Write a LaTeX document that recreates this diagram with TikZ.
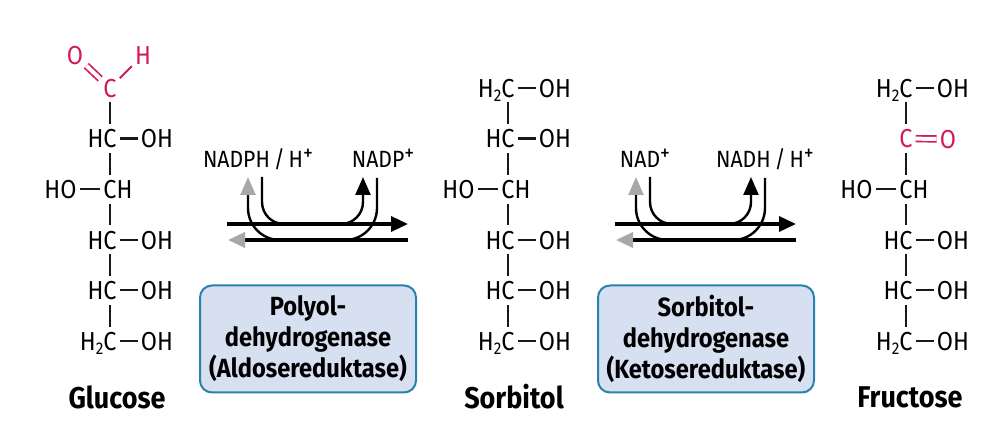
\documentclass[tikz,border=0pt]{standalone}
\usepackage{fontspec}
\setmainfont[FakeStretch=0.9]{Fira Sans}
\usetikzlibrary{arrows.meta}
\definecolor{carbred}{HTML}{D2195A}
\definecolor{boxfill}{HTML}{D6E0F1}
\definecolor{boxdraw}{HTML}{2A80B0}
\definecolor{tipgray}{HTML}{A8A8A8}
\newcommand{\hsub}{H\raisebox{-4pt}{\fontsize{17}{18}\selectfont 2}}
\newcommand{\splus}{\raisebox{7pt}{\fontsize{22}{22}\selectfont +}}

\begin{document}
\begin{tikzpicture} [
    x=1pt,
    y=-1pt,
    node distance=50.6pt,
  ]

  \tikzstyle{atom} = [
    font=\fontsize{26}{30}\selectfont,
    text height=18.5pt,
    text depth=0pt,
    inner xsep=3pt,
    inner ysep=5pt,
  ]
  \tikzstyle{ohgroup} = [
    atom,
    node distance=47pt,
  ]
  \tikzstyle{hogroup} = [
    atom,
    node distance=49.5pt,
  ]
  \tikzstyle{redatom} = [
    atom,
    text=carbred,
  ]
  \tikzstyle{bond} = [
    line width=2.2pt,
    black!90,
  ]
  \tikzstyle{redbond} = [
    line width=2pt,
    carbred,
  ]
  \tikzstyle{redbond2} = [
    carbred,
    line width=1.7pt,
    double=white,
    double distance=4pt,
  ]
  \tikzstyle{cofactor} = [
    font=\fontsize{23.5}{26}\selectfont,
    text height=17pt,
    text depth=0pt,
    inner sep=0pt,
  ]
  \tikzstyle{sugar} = [
    font=\fontsize{30}{32}\selectfont\bfseries,
    inner sep=0pt,
  ]
  \tikzstyle{enzyme} = [
    draw=boxdraw,
    fill=boxfill,
    line width=2pt,
    rounded corners=12pt,
    minimum width=216pt,
    minimum height=107pt,
    align=center,
    inner sep=0pt,
    font=\fontsize{26.3}{31}\selectfont\bfseries,
  ]
  \tikzstyle{rxn} = [
    line width=3.4pt,
  ]
  \tikzstyle{ubend} = [
    line width=2.4pt,
  ]

  % Glucose
  \node[redatom] (g1) at (110,88) {C};
  \node[redatom] (go) at (75,55)  {O};
  \node[redatom] (gh) at (143,55) {H};
  \node[atom,below of=g1] (g2) {\llap{H}C};
  \node[atom,below of=g2] (g3) {C\rlap{H}};
  \node[atom,below of=g3] (g4) {\llap{H}C};
  \node[atom,below of=g4] (g5) {\llap{H}C};
  \node[atom,below of=g5] (g6) {\llap{\hsub}C};
  \node[ohgroup,right of=g2] (g2r) {OH};
  \node[hogroup,left of=g3] (g3l) {HO};
  \node[ohgroup,right of=g4] (g4r) {OH};
  \node[ohgroup,right of=g5] (g5r) {OH};
  \node[ohgroup,right of=g6] (g6r) {OH};
  \node[sugar] (gname) at (117,397) {Glucose};

  % Sorbitol
  \node[atom] (s1) at (508,88) {\llap{\hsub}C};
  \node[atom,below of=s1] (s2) {\llap{H}C};
  \node[atom,below of=s2] (s3) {C\rlap{H}};
  \node[atom,below of=s3] (s4) {\llap{H}C};
  \node[atom,below of=s4] (s5) {\llap{H}C};
  \node[atom,below of=s5] (s6) {\llap{\hsub}C};
  \node[ohgroup,right of=s1] (s1r) {OH};
  \node[ohgroup,right of=s2] (s2r) {OH};
  \node[hogroup,left of=s3] (s3l) {HO};
  \node[ohgroup,right of=s4] (s4r) {OH};
  \node[ohgroup,right of=s5] (s5r) {OH};
  \node[ohgroup,right of=s6] (s6r) {OH};
  \node[sugar] (sname) at (514,397) {Sorbitol};

  % Fructose
  \node[atom] (f1) at (906,88) {\llap{\hsub}C};
  \node[redatom,below of=f1] (f2) {C};
  \node[atom,below of=f2] (f3) {C\rlap{H}};
  \node[atom,below of=f3] (f4) {\llap{H}C};
  \node[atom,below of=f4] (f5) {\llap{H}C};
  \node[atom,below of=f5] (f6) {\llap{\hsub}C};
  \node[ohgroup,right of=f1] (f1r) {OH};
  \node[redatom] (fo) at (948,139) {O};
  \node[hogroup,left of=f3] (f3l) {HO};
  \node[ohgroup,right of=f4] (f4r) {OH};
  \node[ohgroup,right of=f5] (f5r) {OH};
  \node[ohgroup,right of=f6] (f6r) {OH};
  \node[sugar] (fname) at (910,397) {Fructose};

  \draw[redbond2] (g1) -- (go);
  \draw[redbond2] (f2) -- (fo);
  \path[redbond] (g1) edge (gh);
  \path[bond] (g1) edge (g2) (g2) edge (g3) (g3) edge (g4) (g4) edge (g5) (g5) edge (g6);
  \path[bond] (g2) edge (g2r) (g3) edge (g3l) (g4) edge (g4r) (g5) edge (g5r) (g6) edge (g6r);
  \path[bond] (s1) edge (s2) (s2) edge (s3) (s3) edge (s4) (s4) edge (s5) (s5) edge (s6);
  \path[bond] (s1) edge (s1r) (s2) edge (s2r) (s3) edge (s3l) (s4) edge (s4r) (s5) edge (s5r) (s6) edge (s6r);
  \path[bond] (f1) edge (f2) (f2) edge (f3) (f3) edge (f4) (f4) edge (f5) (f5) edge (f6);
  \path[bond] (f1) edge (f1r) (f3) edge (f3l) (f4) edge (f4r) (f5) edge (f5r) (f6) edge (f6r);

  % Cofactors and enzymes
  \node[cofactor] (nadph) at (258,159) {NADPH\,/\,H\splus};
  \node[cofactor] (nadp)  at (383,159) {NADP\splus};
  \node[cofactor] (nad)   at (645,159) {NAD\splus};
  \node[cofactor] (nadh)  at (765,159) {NADH\,/\,H\splus};
  \node[enzyme] (polyol) at (308,339) {Polyol-\\dehydrogenase\\(Aldosereduktase)};
  \node[enzyme] (sorbdh) at (706,339) {Sorbitol-\\dehydrogenase\\(Ketosereduktase)};

  % left reaction
  \coordinate (a1) at (227,224);
  \coordinate (a2) at (408,224);
  \coordinate (a3) at (408,240);
  \coordinate (a4) at (228,240);
  \coordinate (a5) at (262,177);
  \coordinate (a6) at (363,177);
  \coordinate (a7) at (377,178);
  \coordinate (a8) at (248,177);
  \draw[rxn,-{Triangle[length=17pt,width=15pt]}] (a1) -- (a2);
  \draw[rxn,-{Triangle[length=17pt,width=15pt,color=tipgray]}] (a3) -- (a4);
  \draw[ubend,rounded corners=22pt,-{Triangle[length=18pt,width=15pt]}]
    (a5) -- (a5 |- a1) -- (a6 |- a1) -- (a6);
  \draw[ubend,rounded corners=32pt,-{Triangle[length=18pt,width=15pt,color=tipgray]}]
    (a7) -- (a7 |- a3) -- (a8 |- a3) -- (a8);

  % right reaction
  \coordinate (b1) at (615,224);
  \coordinate (b2) at (796,224);
  \coordinate (b3) at (796,240);
  \coordinate (b4) at (616,240);
  \coordinate (b5) at (650,177);
  \coordinate (b6) at (751,177);
  \coordinate (b7) at (765,178);
  \coordinate (b8) at (636,177);
  \draw[rxn,-{Triangle[length=17pt,width=15pt]}] (b1) -- (b2);
  \draw[rxn,-{Triangle[length=17pt,width=15pt,color=tipgray]}] (b3) -- (b4);
  \draw[ubend,rounded corners=22pt,-{Triangle[length=18pt,width=15pt]}]
    (b5) -- (b5 |- b1) -- (b6 |- b1) -- (b6);
  \draw[ubend,rounded corners=32pt,-{Triangle[length=18pt,width=15pt,color=tipgray]}]
    (b7) -- (b7 |- b3) -- (b8 |- b3) -- (b8);

  \useasboundingbox (0,0) rectangle (994,427);
\end{tikzpicture}
\end{document}
